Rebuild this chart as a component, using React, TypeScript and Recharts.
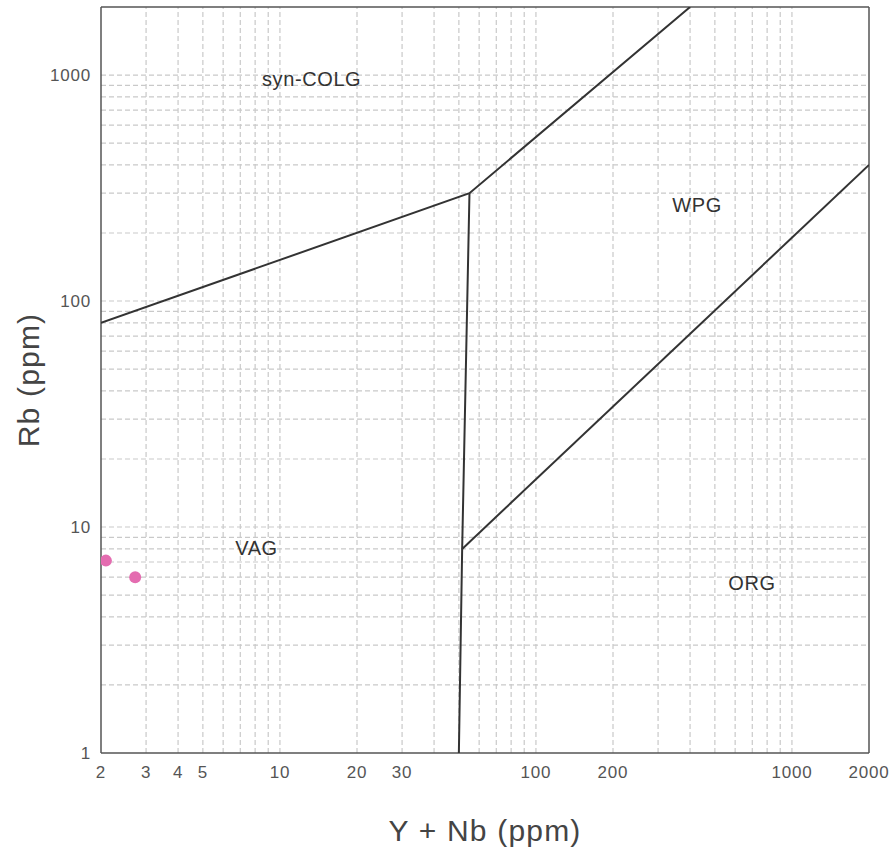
import { ScatterChart, Scatter, XAxis, YAxis, ReferenceLine } from 'recharts';

// axis ticks
const xTicks = [2, 3, 4, 5, 10, 20, 30, 100, 200, 1000, 2000];
const yTicks = [1, 10, 100, 1000];

// log grid positions
const xGrid = [3, 4, 5, 6, 7, 8, 9, 10, 20, 30, 40, 50, 60, 70, 80, 90, 100, 200, 300, 400, 500, 600, 700, 800, 900, 1000];
const yGrid = [2, 3, 4, 5, 6, 7, 8, 9, 10, 20, 30, 40, 50, 60, 70, 80, 90, 100, 200, 300, 400, 500, 600, 700, 800, 900, 1000];

// Pearce et al. (1984) field boundaries
const synColgVag = [
  { x: 2, y: 80 },
  { x: 55, y: 300 },
  { x: 400, y: 2000 },
];
const vagOrg = [
  { x: 55, y: 300 },
  { x: 51.5, y: 8 },
  { x: 50, y: 1 },
];
const wpgOrg = [
  { x: 51.5, y: 8 },
  { x: 2000, y: 400 },
];

const fieldLabels = [
  { x: 13.3, y: 960, name: 'syn-COLG' },
  { x: 426, y: 266, name: 'WPG' },
  { x: 8.1, y: 8.1, name: 'VAG' },
  { x: 698, y: 5.65, name: 'ORG' },
];

const samples = [
  { x: 2.09, y: 7.1 },
  { x: 2.72, y: 6.0 },
];

const FONT = '"Liberation Sans", Arial, Helvetica, sans-serif';
const AXIS = '#555';
const GRID = '#c9c9c9';
const LINE = '#333';
const POINT = '#e46cb0';

const noShape = () => <g />;

export default function App() {
  return (
    <div style={{ position: 'absolute', left: 0, top: 0, background: '#fff', fontFamily: FONT }}>
      <ScatterChart width={893} height={852} margin={{ top: 7, right: 24, left: 0, bottom: 0 }}>
        <XAxis
          type="number"
          dataKey="x"
          scale="log"
          domain={[2, 2000]}
          allowDataOverflow
          ticks={xTicks}
          interval={0}
          height={99}
          tickLine={false}
          tickSize={0}
          tickMargin={13}
          stroke={AXIS}
          strokeWidth={1.5}
          tick={{ fill: AXIS, fontSize: 17, fontFamily: FONT, letterSpacing: 0.8 }}
          label={{
            content: (props: any) => {
              const vb = props.viewBox;
              return (
                <text
                  x={vb.x + vb.width / 2}
                  y={vb.y + 77}
                  textAnchor="middle"
                  dominantBaseline="central"
                  fill="#444"
                  fontSize={30}
                  letterSpacing={1.2}
                  fontFamily={FONT}
                >
                  Y + Nb (ppm)
                </text>
              );
            },
          }}
        />
        <YAxis
          type="number"
          dataKey="y"
          scale="log"
          domain={[1, 2000]}
          allowDataOverflow
          ticks={yTicks}
          interval={0}
          width={101}
          tickLine={false}
          tickSize={0}
          tickMargin={10}
          stroke={AXIS}
          strokeWidth={1.5}
          tick={{ fill: AXIS, fontSize: 17, fontFamily: FONT, letterSpacing: 0.8 }}
          label={{
            content: (props: any) => {
              const vb = props.viewBox;
              const cx = vb.x + 28;
              const cy = vb.y + 373;
              return (
                <text
                  x={cx}
                  y={cy}
                  transform={`rotate(-90 ${cx} ${cy})`}
                  textAnchor="middle"
                  dominantBaseline="central"
                  fill="#444"
                  fontSize={30}
                  letterSpacing={1.2}
                  fontFamily={FONT}
                >
                  Rb (ppm)
                </text>
              );
            },
          }}
        />

        {xGrid.map((v) => (
          <ReferenceLine key={`gx${v}`} x={v} stroke={GRID} strokeWidth={1.2} strokeDasharray="5 3" />
        ))}
        {yGrid.map((v) => (
          <ReferenceLine key={`gy${v}`} y={v} stroke={GRID} strokeWidth={1.2} strokeDasharray="5 3" />
        ))}
        <ReferenceLine x={2000} stroke={AXIS} strokeWidth={1.5} />
        <ReferenceLine y={2000} stroke={AXIS} strokeWidth={1.5} />

        <Scatter data={synColgVag} line={{ stroke: LINE, strokeWidth: 2 }} shape={noShape} isAnimationActive={false} />
        <Scatter data={vagOrg} line={{ stroke: LINE, strokeWidth: 2 }} shape={noShape} isAnimationActive={false} />
        <Scatter data={wpgOrg} line={{ stroke: LINE, strokeWidth: 2 }} shape={noShape} isAnimationActive={false} />

        <Scatter
          data={fieldLabels}
          isAnimationActive={false}
          shape={(p: any) => (
            <text
              x={p.cx}
              y={p.cy}
              textAnchor="middle"
              dominantBaseline="central"
              fill="#333"
              fontSize={20}
              letterSpacing={0.6}
              fontFamily={FONT}
            >
              {p.payload.name}
            </text>
          )}
        />

        <Scatter
          data={samples}
          isAnimationActive={false}
          shape={(p: any) => <circle cx={p.cx} cy={p.cy} r={6} fill={POINT} />}
        />
      </ScatterChart>
    </div>
  );
}
